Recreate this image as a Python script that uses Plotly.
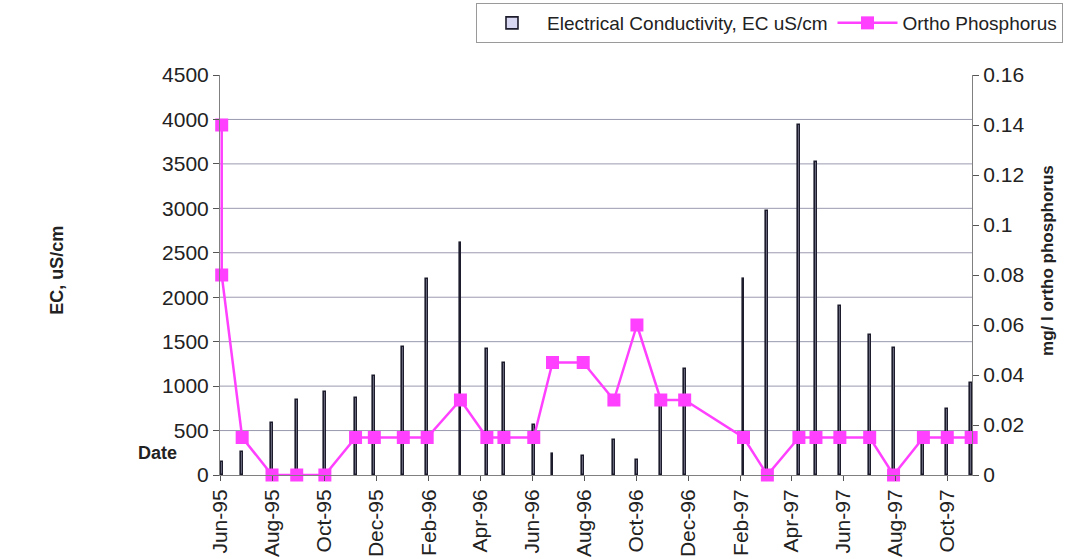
import plotly.graph_objects as go

# Sampling dates for electrical conductivity
ec_dates = [
    "1995-06-03", "1995-06-27", "1995-08-01", "1995-08-30", "1995-10-02",
    "1995-11-07", "1995-11-29", "1996-01-02", "1996-01-30", "1996-03-09",
    "1996-04-09", "1996-04-29", "1996-06-03", "1996-06-25", "1996-07-31",
    "1996-09-05", "1996-10-02", "1996-10-30", "1996-11-27", "1997-02-04",
    "1997-03-04", "1997-04-10", "1997-04-30", "1997-05-28", "1997-07-02",
    "1997-07-30", "1997-09-03", "1997-10-01", "1997-10-29",
]
# EC, uS/cm
ec_values = [
    150, 260, 580, 840, 930, 870, 1110, 1440, 2210, 2610,
    1420, 1260, 560, 240, 210, 390, 170, 880, 1190, 2200,
    2970, 3940, 3520, 1900, 1580, 1430, 450, 740, 1040,
]

# Ortho phosphorus samples (two readings on the first date)
op_dates = ["1995-06-03"] + ec_dates
op_values = [
    0.14, 0.08, 0.015, 0, 0, 0, 0.015, 0.015, 0.015, 0.015,
    0.03, 0.015, 0.015, 0.015, 0.045, 0.045, 0.03, 0.06, 0.03, 0.03,
    0.015, 0, 0.015, 0.015, 0.015, 0.015, 0, 0.015, 0.015, 0.015,
]

ec_gridlines = [500, 1000, 1500, 2000, 2500, 3000, 3500, 4000]

FONT = "Liberation Sans, Arial, sans-serif"
TXT = "#222222"
PINK = "#ff40ff"
DAY_MS = 86400000

fig = go.Figure()

fig.add_trace(go.Bar(
    x=ec_dates, y=ec_values,
    name="Electrical Conductivity, EC uS/cm",
    width=2.2 * DAY_MS,
    marker=dict(color="#d8d8f2", line=dict(color="#1c1c2c", width=1.6)),
    yaxis="y",
))

fig.add_trace(go.Scatter(
    x=op_dates, y=op_values,
    name="Ortho Phosphorus",
    mode="lines+markers",
    line=dict(color=PINK, width=2.5),
    marker=dict(symbol="square", size=13, color=PINK),
    yaxis="y2",
    cliponaxis=False,
))

shapes = [
    dict(type="line", xref="paper", yref="y", x0=0, x1=1, y0=g, y1=g,
         line=dict(color="#9a9ab0", width=1), layer="below")
    for g in ec_gridlines
]

fig.update_layout(
    width=1067, height=559,
    margin=dict(l=220, r=95, t=75, b=84, autoexpand=False),
    paper_bgcolor="white", plot_bgcolor="white",
    font=dict(family=FONT, size=21, color=TXT),
    barmode="overlay",
    bargap=0,
    shapes=shapes,
    xaxis=dict(
        type="date",
        range=["1995-06-01", "1997-10-30"],
        tick0="1995-06-01", dtick="M2",
        tickformat="%b-%y", tickangle=-90,
        ticks="outside", ticklen=5, tickcolor="#555555",
        showline=True, linecolor="#808080", linewidth=1,
        showgrid=False, zeroline=False,
        tickfont=dict(size=21, color=TXT),
        automargin=False,
    ),
    yaxis=dict(
        range=[0, 4500], dtick=500,
        ticks="outside", ticklen=6, tickcolor="#555555",
        showline=True, linecolor="#808080", linewidth=1,
        showgrid=False, zeroline=False,
        tickfont=dict(size=21, color=TXT),
        automargin=False,
    ),
    yaxis2=dict(
        overlaying="y", side="right",
        range=[0, 0.16], dtick=0.02,
        ticks="outside", ticklen=6, tickcolor="#555555",
        showline=True, linecolor="#808080", linewidth=1,
        showgrid=False, zeroline=False,
        tickfont=dict(size=21, color=TXT),
        automargin=False,
    ),
    legend=dict(
        orientation="h",
        x=1.121, xanchor="right",
        y=1.18, yanchor="top",
        bgcolor="white", bordercolor="#9a9a9a", borderwidth=1,
        font=dict(size=19, color=TXT),
        itemwidth=60,
    ),
    annotations=[
        dict(text="<b>EC, uS/cm</b>", xref="paper", yref="paper",
             x=-0.233, y=0.5125, textangle=-90, showarrow=False,
             font=dict(size=18, color=TXT)),
        dict(text="<b>mg/ l ortho phosphorus</b>", xref="paper", yref="paper",
             x=1.115, y=0.5375, textangle=-90, showarrow=False,
             font=dict(size=17, color=TXT)),
        dict(text="<b>Date</b>", xref="paper", yref="paper",
             x=-0.112, y=0.025, showarrow=False,
             font=dict(size=18, color=TXT)),
    ],
)

fig.write_html("out.html")
